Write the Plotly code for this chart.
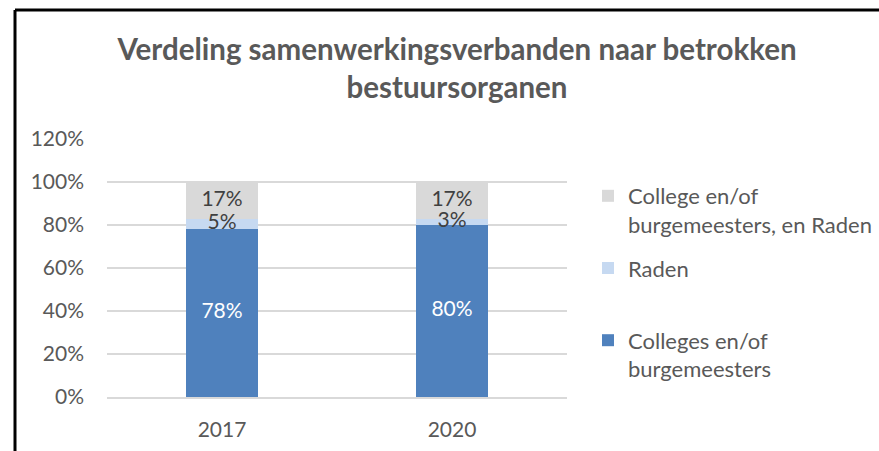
import plotly.graph_objects as go

years = ["2017", "2020"]
colleges = [78, 80]
raden = [5, 3]
beide = [17, 17]

names = ["Colleges en/of<br>burgemeesters", "Raden<br> ", "College en/of<br>burgemeesters, en Raden"]
colors = ["#4F81BD", "#C6D9F1", "#D9D9D9"]
label_colors = ["#FFFFFF", "#404040", "#404040"]
ranks = [3, 2, 1]
series = [colleges, raden, beide]

FONT = "Lato"
fig = go.Figure()
for name, vals, col, rk in zip(names, series, colors, ranks):
    fig.add_trace(go.Bar(
        x=years, y=vals, name=name, marker_color=col, marker_line_width=0,
        legendgroup=name, legendrank=rk, hoverinfo="skip",
    ))

# data labels drawn above all bars, centred in each stacked segment
base = [0] * len(years)
for vals, lc in zip(series, label_colors):
    centers = [b + v / 2 for b, v in zip(base, vals)]
    fig.add_trace(go.Scatter(
        x=years, y=centers, mode="text", text=[f"{v}%" for v in vals],
        textposition="middle center", textfont=dict(color=lc, size=21, family=FONT),
        showlegend=False, hoverinfo="skip", cliponaxis=False,
    ))
    base = [b + v for b, v in zip(base, vals)]

fig.update_layout(
    barmode="stack", bargap=0.69,
    width=879, height=451,
    margin=dict(l=107, r=312, t=139, b=54, autoexpand=False),
    paper_bgcolor="white", plot_bgcolor="white",
    font=dict(family=FONT, color="#595959", size=21),
    title=dict(text="<b>Verdeling samenwerkingsverbanden naar betrokken<br>bestuursorganen</b>",
               x=457/879, xanchor="center", y=1 - 60/451, yanchor="middle",
               font=dict(size=29.5, color="#595959", family=FONT)),
    legend=dict(traceorder="grouped", x=(588-107)/460, xanchor="left", y=(397-175)/258, yanchor="top",
                font=dict(size=22, color="#595959", family=FONT),
                tracegroupgap=12, itemwidth=30, valign="top", bgcolor="rgba(0,0,0,0)"),
    showlegend=True,
)
fig.update_yaxes(range=[0, 120], dtick=20, ticksuffix="%", showgrid=True,
                 gridcolor="#D9D9D9", gridwidth=2, zeroline=False, showline=False,
                 ticks="", ticklabelstandoff=22, tickfont=dict(size=21, color="#595959"))
fig.update_xaxes(showline=True, linecolor="#D9D9D9", linewidth=2, ticks="",
                 ticklabelstandoff=13, tickfont=dict(size=21, color="#595959"))

# black frame on top and left edges
fig.add_shape(type="line", xref="paper", yref="paper", x0=(15-107)/460, x1=3, y0=(397-10)/258, y1=(397-10)/258,
              line=dict(color="black", width=3))
fig.add_shape(type="line", xref="paper", yref="paper", x0=(15-107)/460, x1=(15-107)/460, y0=(397-10)/258, y1=-1,
              line=dict(color="black", width=3))

fig.write_html("out.html", config={"displayModeBar": False},
               post_script="document.body.style.margin='0px';")
